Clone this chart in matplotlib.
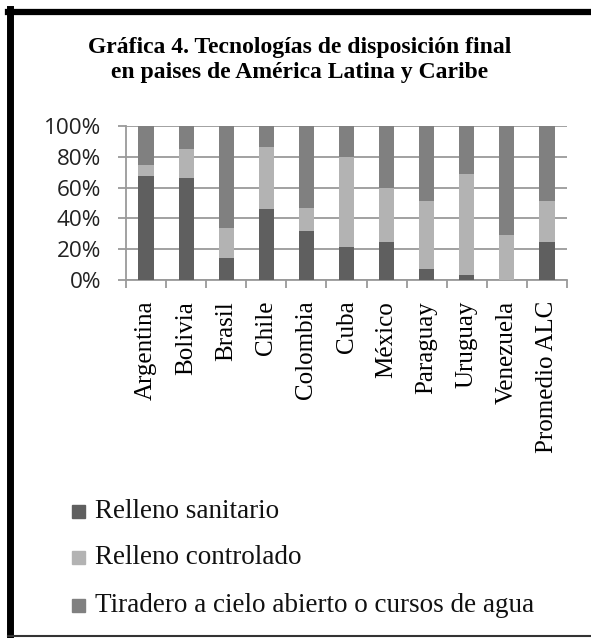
import matplotlib
matplotlib.use("Agg")
import matplotlib.pyplot as plt
from matplotlib.lines import Line2D
from matplotlib.patches import Rectangle
import numpy as np

categories = ["Argentina", "Bolivia", "Brasil", "Chile", "Colombia", "Cuba",
              "México", "Paraguay", "Uruguay", "Venezuela", "Promedio ALC"]
sanitario = [67.6, 66.5, 14.5, 45.8, 31.7, 21.2, 24.8, 7.1, 3.0, 0.0, 24.8]
controlado = [7.4, 18.5, 19.5, 40.6, 15.2, 58.8, 35.2, 44.3, 65.7, 29.4, 26.6]
tiradero = [100 - a - b for a, b in zip(sanitario, controlado)]
series_names = ["Relleno sanitario", "Relleno controlado",
                "Tiradero a cielo abierto o cursos de agua"]
colors = ["#5f5f5f", "#b3b3b3", "#808080"]
yticks = [0, 20, 40, 60, 80, 100]
title = "Gráfica 4. Tecnologías de disposición final\nen paises de América Latina y Caribe"

W, H = 591, 638
fig = plt.figure(figsize=(W / 100, H / 100), dpi=100)
ax = fig.add_axes([126 / W, 1 - 280 / H, (567 - 126) / W, (280 - 126) / H])

x = np.arange(len(categories))
bw = 0.38
bottom = np.zeros(len(categories))
for vals, c in zip([sanitario, controlado, tiradero], colors):
    ax.bar(x, vals, bw, bottom=bottom, color=c, edgecolor="none", zorder=3)
    bottom += np.array(vals)

ax.set_xlim(-0.5, len(categories) - 0.5)
ax.set_ylim(0, 100)
ax.set_yticks(yticks)
ax.set_yticklabels([f"{v}%" for v in yticks], fontfamily="Open Sans", fontsize=16.2, color="#222222")
ax.yaxis.grid(True, color="#9a9a9a", linewidth=1.3, zorder=0)
ax.set_xticks(np.arange(-0.5, len(categories) + 0.5, 1))
ax.set_xticklabels([])
ax.set_xticks(x, minor=True)
ax.set_xticklabels(categories, minor=True, rotation=90, fontfamily="Liberation Serif",
                   fontsize=18, va="top", ha="center")
ax.tick_params(axis="x", which="minor", length=0, pad=15)
ax.tick_params(axis="x", which="major", length=6, color="#9a9a9a", width=1.3, direction="out")
ax.tick_params(axis="y", length=6, color="#9a9a9a", width=1.3, direction="out", pad=12)
for s in ["top", "right"]:
    ax.spines[s].set_visible(False)
for s in ["left", "bottom"]:
    ax.spines[s].set_color("#9a9a9a")
    ax.spines[s].set_linewidth(1.3)

fig.text(300 / W, 1 - 60 / H, title, ha="center", va="center", fontfamily="Liberation Serif",
         fontweight="bold", fontsize=17, linespacing=1.25)

# legend
leg_y = [512, 558, 606]
for name, c, yy in zip(series_names, colors, leg_y):
    fig.patches.append(Rectangle((72 / W, 1 - (yy + 6) / H), 13 / W, 13 / H,
                                 transform=fig.transFigure, color=c, figure=fig))
    fig.text(95 / W, 1 - yy / H, name, ha="left", va="center", fontfamily="Liberation Serif",
             fontsize=19.5, color="#111111")

# frame
fig.add_artist(Line2D([10 / W, 10 / W], [1 - 9 / H, 1 - 636 / H], transform=fig.transFigure,
                      color="black", linewidth=5))
fig.add_artist(Line2D([8 / W, 1], [1 - 12 / H, 1 - 12 / H], transform=fig.transFigure,
                      color="black", linewidth=4.5))
fig.add_artist(Line2D([8 / W, 1], [1 - 636 / H, 1 - 636 / H], transform=fig.transFigure,
                      color="#333333", linewidth=1.5))

fig.savefig("out.png", dpi=100)
